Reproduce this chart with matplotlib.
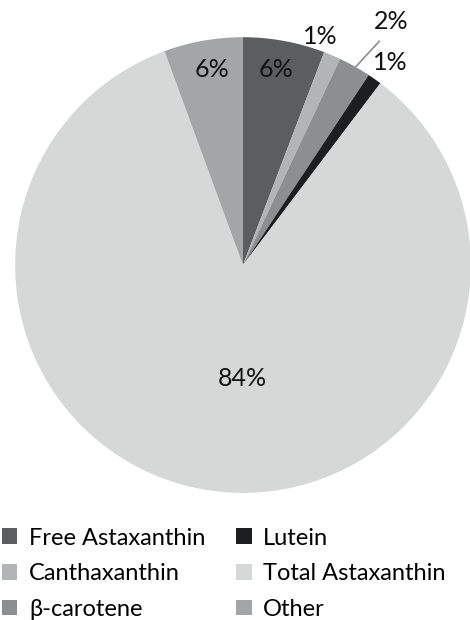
import numpy as np
import matplotlib.pyplot as plt

plt.rcParams['font.family'] = ['Lato', 'DejaVu Sans']

names = ['Free Astaxanthin', 'Canthaxanthin', 'β-carotene', 'Lutein', 'Total Astaxanthin', 'Other']
values = [5.8, 1.2, 2.3, 1.0, 84.1, 5.6]
colors = ['#5b5d5e', '#b3b4b5', '#8c8e8f', '#1c1e20', '#d6d7d7', '#a3a5a6']
# label radius (in pie radii), angle shift and whether a leader line is drawn
label_r = [0.87, 1.06, 1.25, 1.10, 0.50, 0.87]
label_dang = [1, 4.5, -2, -0.7, 8, -1]
leader = [False, False, True, False, False, False]

fig = plt.figure(figsize=(4.7, 6.2), dpi=100)
ax = fig.add_axes([0.032, 0.205, 0.970, 0.735])
wedges, _ = ax.pie(values, colors=colors, startangle=90, counterclock=False,
                   radius=1, wedgeprops=dict(linewidth=0))
ax.set_xlim(-1, 1)
ax.set_ylim(-1, 1)
ax.set_aspect('equal')
ax.axis('off')

for w, v, r, ld, da in zip(wedges, values, label_r, leader, label_dang):
    mid = np.deg2rad((w.theta1 + w.theta2) / 2)
    ang = mid + np.deg2rad(da)
    x, y = r * np.cos(ang), r * np.sin(ang)
    ax.text(x, y, '%d%%' % round(v), ha='center', va='center', fontsize=18, color='#111111',
            clip_on=False)
    if ld:
        ax.plot([0.98 * np.cos(mid), (r - 0.1) * np.cos(ang)],
                [0.98 * np.sin(mid), (r - 0.1) * np.sin(ang)],
                color='#8c8e8f', lw=1.2, clip_on=False)

# title is cut off by the top edge in the original, only descenders show
fig.text(0.52, 1.011, '(µg/g DW)', ha='center', va='baseline', fontsize=18)

leg = fig.legend(wedges, names, ncol=2,
                 loc='lower left', bbox_to_anchor=(-0.041, -0.034), frameon=False,
                 fontsize=17, handlelength=0.65, handleheight=0.65, handletextpad=0.5,
                 columnspacing=1.3, labelspacing=0.62)

fig.savefig('out.png', dpi=100)
